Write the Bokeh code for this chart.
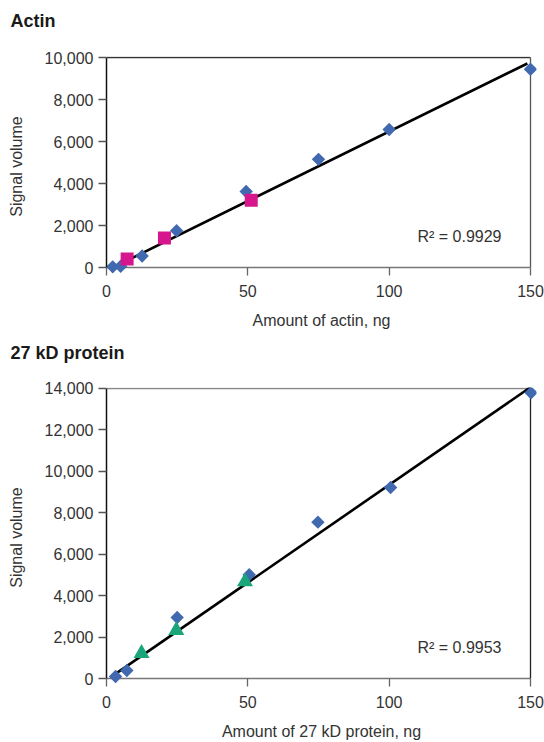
import math
from bokeh.plotting import figure
from bokeh.layouts import column
from bokeh.models import Range1d, Label, FixedTicker, NumeralTickFormatter
from bokeh.embed import file_html
from bokeh.resources import INLINE

FONT = "Liberation Sans"

# ---- data: Actin ----
actin_ref_x = [2.2, 5, 12.6, 24.8, 49.4, 75, 100, 150]
actin_ref_y = [30, 60, 550, 1750, 3620, 5150, 6570, 9440]
actin_smp_x = [7.3, 20.5, 51.2]
actin_smp_y = [400, 1410, 3200]
actin_fit_x = [3.2, 148.9]
actin_fit_y = [62, 9714]
actin_r2 = "R\u00b2 = 0.9929"
actin_yticks = [0, 2000, 4000, 6000, 8000, 10000]

# ---- data: 27 kD protein ----
p27_ref_x = [3.2, 7.2, 25, 50.5, 74.8, 100.5, 150.2]
p27_ref_y = [100, 392, 2950, 5010, 7550, 9225, 13790]
p27_smp_x = [12.4, 24.7, 49]
p27_smp_y = [1220, 2330, 4680]
p27_fit_x = [1.4, 150]
p27_fit_y = [57, 14060]
p27_r2 = "R\u00b2 = 0.9953"
p27_yticks = [0, 2000, 4000, 6000, 8000, 10000, 12000, 14000]

xticks = [0, 50, 100, 150]
XMAX = 150

BLUE = "#4169B0"
MAGENTA = "#D6168C"
GREEN = "#1BA57A"
TXT = "#333333"
W = 544
LEFT = 106


def make_chart(title, title_standoff, xlabel, ref_x, ref_y, smp_x, smp_y, smp_marker,
               smp_color, smp_size, fit_x, fit_y, r2, r2_x, r2_y, yticks, ymax,
               fig_h, frame_top, data_h, top_color, right_color):
    pad_b, pad_t, pad_r = 9, 1, 6
    data_w = 424
    upx = ymax / data_h
    xpx = XMAX / data_w
    frame_h = data_h + pad_b + pad_t
    p = figure(width=W, height=fig_h, output_backend="svg", toolbar_location=None,
               x_range=Range1d(0, XMAX + pad_r * xpx),
               y_range=Range1d(-pad_b * upx, ymax + pad_t * upx),
               min_border_left=LEFT, min_border_right=W - LEFT - data_w - pad_r,
               min_border_top=frame_top,
               min_border_bottom=fig_h - frame_top - frame_h)
    p.outline_line_color = None
    p.grid.visible = False
    p.background_fill_color = "white"
    p.border_fill_color = "white"

    # title: a trailing empty line lifts the text away from the frame
    p.title.text = title + "\n"
    p.title.align = "left"
    p.title.offset = 10 - LEFT
    p.title.vertical_align = "top"
    p.title.standoff = title_standoff
    p.title.text_font = FONT
    p.title.text_font_size = "18px"
    p.title.text_font_style = "bold"
    p.title.text_color = "#1a1a1a"

    # x axis
    xa = p.xaxis[0]
    xa.ticker = FixedTicker(ticks=xticks)
    xa.bounds = (0, XMAX)
    xa.axis_line_color = None
    xa.major_tick_in = pad_b
    xa.major_tick_out = -1
    xa.major_tick_line_color = "#666666"
    xa.major_tick_line_width = 1.3
    xa.minor_tick_line_color = None
    xa.minor_tick_in = 0
    xa.minor_tick_out = 0
    xa.major_label_text_font = FONT
    xa.major_label_text_font_size = "16px"
    xa.major_label_text_color = TXT
    xa.major_label_standoff = 8
    xa.axis_label = xlabel
    xa.axis_label_text_font = FONT
    xa.axis_label_text_font_size = "16px"
    xa.axis_label_text_font_style = "normal"
    xa.axis_label_text_color = TXT
    xa.axis_label_standoff = 12

    # y axis
    ya = p.yaxis[0]
    ya.ticker = FixedTicker(ticks=yticks)
    ya.formatter = NumeralTickFormatter(format="0,0")
    ya.bounds = (0, ymax)
    ya.axis_line_color = "#111111"
    ya.axis_line_width = 1.5
    ya.major_tick_in = 0
    ya.major_tick_out = 8
    ya.major_tick_line_color = "#555555"
    ya.major_tick_line_width = 1.3
    ya.minor_tick_line_color = None
    ya.minor_tick_in = 0
    ya.minor_tick_out = 0
    ya.major_label_text_font = FONT
    ya.major_label_text_font_size = "16px"
    ya.major_label_text_color = TXT
    ya.major_label_standoff = 5
    ya.axis_label = "Signal volume"
    ya.axis_label_text_font = FONT
    ya.axis_label_text_font_size = "16px"
    ya.axis_label_text_font_style = "normal"
    ya.axis_label_text_color = TXT
    ya.axis_label_standoff = 17

    # frame lines
    p.line([0, XMAX], [0, 0], line_color="#777777", line_width=1.5)
    p.line([0, XMAX], [ymax, ymax], line_color=top_color, line_width=1.3)
    p.line([XMAX, XMAX], [0, ymax], line_color=right_color, line_width=1.3)

    # fit line
    p.line(fit_x, fit_y, line_color="black", line_width=2.6)

    # reference points (diamonds)
    p.scatter(ref_x, ref_y, marker="square", size=9.5, angle=math.pi / 4,
              fill_color=BLUE, line_color=None)
    # sample points
    p.scatter(smp_x, smp_y, marker=smp_marker, size=smp_size,
              fill_color=smp_color, line_color=None)

    p.add_layout(Label(x=r2_x, y=r2_y, text=r2, text_font=FONT, text_font_size="16px",
                       text_color=TXT, text_baseline="middle", text_align="left"))
    return p


p1 = make_chart("Actin", 8, "Amount of actin, ng", actin_ref_x, actin_ref_y,
                actin_smp_x, actin_smp_y, "square", MAGENTA, 13,
                actin_fit_x, actin_fit_y, actin_r2, 110, 1490, actin_yticks, 10000,
                fig_h=334, frame_top=56, data_h=210,
                top_color="#333333", right_color="#555555")

p2 = make_chart("27 kD protein", 6, "Amount of 27 kD protein, ng", p27_ref_x, p27_ref_y,
                p27_smp_x, p27_smp_y, "triangle", GREEN, 16,
                p27_fit_x, p27_fit_y, p27_r2, 110, 1480, p27_yticks, 14000,
                fig_h=408, frame_top=53, data_h=293,
                top_color="#888888", right_color="#222222")

layout = column(p1, p2, spacing=0)
open("out.html", "w").write(file_html(layout, INLINE))
